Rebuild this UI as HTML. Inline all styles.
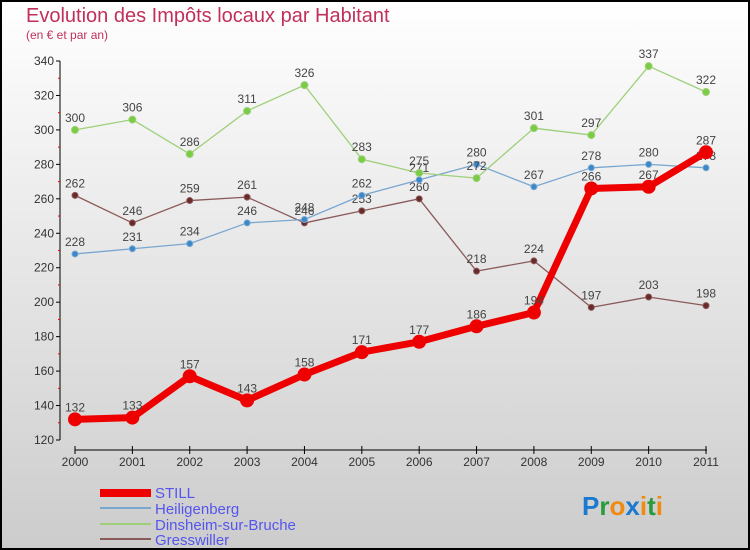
<!DOCTYPE html>
<html><head><meta charset="utf-8"><style>
body{margin:0;width:750px;height:550px;overflow:hidden}
svg{display:block;font-family:"Liberation Sans",sans-serif}
</style></head><body>
<svg id="c" width="750" height="550">
<defs><linearGradient id="bg" x1="0" y1="0" x2="0" y2="1"><stop offset="0" stop-color="#ffffff"/><stop offset="1" stop-color="#cccccc"/></linearGradient></defs>
<rect x="1" y="1" width="748" height="548" fill="url(#bg)" stroke="#000" stroke-width="2"/>
<text x="26" y="22" font-size="20" fill="#c0305a">Evolution des Impôts locaux par Habitant</text>
<text x="26" y="39" font-size="12" fill="#c0305a">(en € et par an)</text>
<g id="axes"></g><g id="series"></g>
<g>
<rect x="100" y="489" width="51" height="8" fill="#ee0000"/>
<text x="155" y="498" font-size="15" fill="#5555ee">STILL</text>
<line x1="100" y1="508" x2="151" y2="508" stroke="#7aa7d0" stroke-width="2"/>
<text x="155" y="514" font-size="15" fill="#5555ee">Heiligenberg</text>
<line x1="100" y1="524" x2="151" y2="524" stroke="#9ed07a" stroke-width="2"/>
<text x="155" y="530" font-size="15" fill="#5555ee">Dinsheim-sur-Bruche</text>
<line x1="100" y1="539" x2="151" y2="539" stroke="#8a5a5a" stroke-width="2"/>
<text x="155" y="545" font-size="15" fill="#5555ee">Gresswiller</text>
</g>
<text x="582" y="515" font-size="26" font-weight="bold"><tspan fill="#1a7ad0">P</tspan><tspan fill="#2a9a3a">r</tspan><tspan fill="#f08a10">o</tspan><tspan fill="#1a7ad0">x</tspan><tspan fill="#f08a10">i</tspan><tspan fill="#2a9a3a">t</tspan><tspan fill="#f08a10">i</tspan></text>
</svg>
<script>
const years=["2000","2001","2002","2003","2004","2005","2006","2007","2008","2009","2010","2011"];
const yTicks=[120,140,160,180,200,220,240,260,280,300,320,340];
const still=[132,133,157,143,158,171,177,186,194,266,267,287];
const heiligenberg=[228,231,234,246,248,262,271,280,267,278,280,278];
const dinsheim=[300,306,286,311,326,283,275,272,301,297,337,322];
const gresswiller=[262,246,259,261,246,253,260,218,224,197,203,198];
const NS="http://www.w3.org/2000/svg";
const x=i=>75+i*(706-75)/(years.length-1);
const y=v=>440-(v-120)*(440-61)/220;
function mk(t,a,p){const e=document.createElementNS(NS,t);for(const k in a)e.setAttribute(k,a[k]);p.appendChild(e);return e;}
const ax=document.getElementById('axes');
const yl=mk('line',{x1:60,y1:61,x2:60,y2:440,stroke:'#000'},ax);


yTicks.forEach((v,i)=>{
 mk('line',{x1:56,y1:y(v),x2:60,y2:y(v),stroke:'#000'},ax);
 if(i<yTicks.length-1) mk('line',{x1:58,y1:y(v+10),x2:60,y2:y(v+10),stroke:'#e00'},ax);
 const t=mk('text',{x:54,y:y(v)+4,'font-size':12,fill:'#333','text-anchor':'end'},ax);t.textContent=v;
 
 
});
const xl=mk('line',{x1:75,y1:450,x2:707,y2:450,stroke:'#000'},ax);


years.forEach((yr,i)=>{
 mk('line',{x1:x(i),y1:446,x2:x(i),y2:454,stroke:'#000'},ax);
 const t=mk('text',{x:x(i),y:466,'font-size':12,fill:'#333','text-anchor':'middle'},ax);t.textContent=yr;
 
 
});
const sg=document.getElementById('series');
function draw(name,data,col,dot,w,r){
 const g=mk('g',{},sg);
 
 
 mk('polyline',{points:data.map((v,i)=>x(i)+','+y(v)).join(' '),fill:'none',stroke:col,'stroke-width':w,'stroke-linejoin':'round'},g);
 data.forEach((v,i)=>{
  const c=mk('circle',{cx:x(i),cy:y(v),r:r,fill:dot,stroke:col,'stroke-width':1},g);
  
  
  const t=mk('text',{x:x(i),y:y(v)-8,'font-size':12,fill:'#444','text-anchor':'middle'},g);t.textContent=v;
  
  
 });
}
draw('gresswiller',gresswiller,'#8a5a5a','#6a2a2a',1.3,3);
draw('heiligenberg',heiligenberg,'#7aa7d0','#3a88cc',1.3,3);
draw('dinsheim',dinsheim,'#9ed07a','#7acc44',1.3,3.5);
draw('still',still,'#ee0000','#ee0000',7,6.5);
</script>
</body></html>
